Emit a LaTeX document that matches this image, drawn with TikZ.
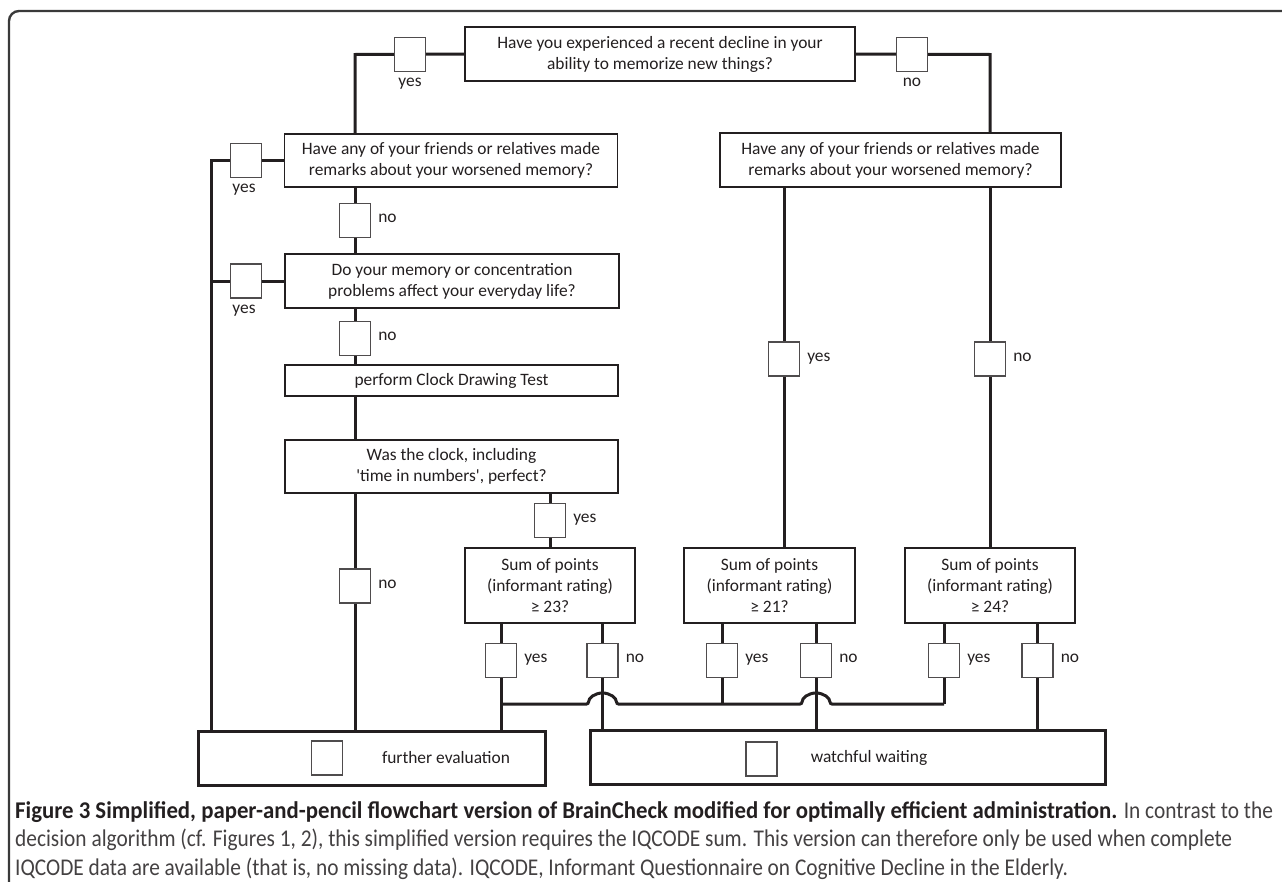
\documentclass[tikz,border=0pt]{standalone}
\usepackage{fontspec}
\usepackage{tikz}
\usetikzlibrary{positioning}
\setmainfont{Carlito}
\newfontfamily\capfont[FakeStretch=0.89]{Carlito}
\newfontfamily\capbold[FakeStretch=0.95]{Carlito}
\definecolor{ink}{HTML}{231F20}
\definecolor{rim}{HTML}{3A3A3A}

\begin{document}
\begin{tikzpicture}[x=1pt, y=-1pt,
    every node/.style={text=ink, font=\fontsize{17.4}{21}\selectfont},
    qbox/.style n args={2}{draw=ink, line width=1.2pt, fill=white, align=center,
        inner sep=0pt, minimum width=#1pt, minimum height=#2pt},
    abox/.style={draw=ink!80, line width=1.1pt, fill=white, inner sep=0pt,
        minimum width=31pt, minimum height=34pt},
    endbox/.style n args={2}{draw=ink, line width=3pt, fill=white, inner sep=0pt,
        minimum width=#1pt, minimum height=#2pt},
    link/.style={draw=ink, line width=3pt},
    lbl/.style={inner sep=0pt}]
    \useasboundingbox (0,0) rectangle (1282,881);
    \draw[draw=rim, line width=2.4pt, rounded corners=10pt] (9,900) -- (9,11) -- (1300,11);

    \node[qbox={390}{54}] (q1) at (660,54) {Have you experienced a recent decline in your\\ability to memorize new things?};
    \node[qbox={333}{53}] (q2) at (451,160.5) {Have any of your friends or relatives made\\remarks about your worsened memory?};
    \node[qbox={341}{54}] (q2b) at (890.5,160) {Have any of your friends or relatives made\\remarks about your worsened memory?};
    \node[qbox={334}{54}] (q3) at (452,281) {Do your memory or concentration\\problems affect your everyday life?};
    \node[qbox={333}{31}] (clk) at (451.5,380.5) {perform Clock Drawing Test};
    \node[qbox={333}{53}] (q4) at (451.5,466.5) {Was the clock, including\\\textquotesingle time in numbers\textquotesingle, perfect?};
    \node[qbox={170}{75}] (s1) at (550,585.5) {Sum of points\\(informant rating)\\≥ 23?};
    \node[qbox={171}{75}] (s2) at (769.5,585.5) {Sum of points\\(informant rating)\\≥ 21?};
    \node[qbox={170}{75}] (s3) at (990,585.5) {Sum of points\\(informant rating)\\≥ 24?};
    \node[endbox={347}{54}] (fe) at (371.5,758) {};
    \node[endbox={515}{54}] (ww) at (847.5,757.5) {};
    \node[lbl] (tfe) at (446,758) {further evaluation};
    \node[lbl] (tww) at (869,758) {watchful waiting};
    \node[abox] (mfe) at (327,758) {};
    \node[abox] (mww) at (761.5,759) {};

    \coordinate (k1) at (355,54.5);
    \coordinate (k2) at (990,54.5);
    \coordinate (k3) at (211,160.5);
    \coordinate (m1) at (501,704);

    \draw[link] (q1.west) -- (k1) -- (k1 |- q2.north);
    \draw[link] (q1.east) -- (k2) -- (k2 |- q2b.north);
    \draw[link] (q2.west) -- (k3) -- (k3 |- fe.north);
    \draw[link] (q3.west) -- (q3.west -| k3);
    \draw[link] (k1 |- q2.south) -- (k1 |- q3.north);
    \draw[link] (k1 |- q3.south) -- (k1 |- clk.north);
    \draw[link] (k1 |- clk.south) -- (k1 |- q4.north);
    \draw[link] (k1 |- q4.south) -- (k1 |- fe.north);
    \draw[link] (s1.north) -- (s1.north |- q4.south);
    \draw[link] (s2.north -| 784,0) -- (784,0 |- q2b.south);
    \draw[link] (s3.north) -- (s3.north |- q2b.south);
    \draw[link] (501,0 |- s1.south) -- (501,0 |- fe.north);
    \draw[link] (602.5,0 |- s1.south) -- (602.5,0 |- ww.north);
    \draw[link] (722,0 |- s2.south) -- (722,0 |- m1);
    \draw[link] (816,0 |- s2.south) -- (816,0 |- ww.north);
    \draw[link] (944,0 |- s3.south) -- (944,0 |- m1);
    \draw[link] (1037.5,0 |- s3.south) -- (1037.5,0 |- ww.north);
    \draw[link, rounded corners=2pt] (m1) -- (588.5,0 |- m1)
        arc[start angle=180, end angle=0, x radius=14pt, y radius=11pt]
        -- (802,0 |- m1)
        arc[start angle=180, end angle=0, x radius=14pt, y radius=11pt]
        -- (944,0 |- m1);

    \foreach \n/\x/\y in {y1/410/54.5, n1/912/54.5, y2/246/160.5, n2/355/220.5,
        y3/246/281, n3/355/338.5, y4/550/520.5, n4/355/586, y5/784/359, n5/990/359,
        y6/501/660.5, n6/602.5/660.5, y7/722/660.5, n7/816/660.5,
        y8/944/660.5, n8/1037.5/660.5}
        \node[abox] (\n) at (\x,\y) {};

    \node[lbl, below=6pt of y1] (ly1) {yes};
    \node[lbl, below=6pt of n1] (ln1) {no};
    \node[lbl, below=6pt of y2, xshift=-2pt] (ly2) {yes};
    \node[lbl, below=6pt of y3, xshift=-2pt] (ly3) {yes};
    \foreach \n/\t in {n2/no, n3/no, y4/yes, n4/no, y5/yes, n5/no,
        y6/yes, n6/no, y7/yes, n7/no, y8/yes, n8/no}
        \node[lbl, right=7pt of \n.east, anchor=mid west] (l\n) {\t};

    \node[anchor=north west, align=left, inner sep=0pt, text=ink!85,
        font=\capfont\fontsize{24}{28.5}\selectfont] (cap) at (15,801)
        {{\capbold\bfseries\color{ink}Figure 3 Simplified, paper-and-pencil flowchart version of BrainCheck modified for optimally efficient administration.} In contrast to the\\
        decision algorithm (cf. Figures 1, 2), this simplified version requires the IQCODE sum. This version can therefore only be used when complete\\
        IQCODE data are available (that is, no missing data). IQCODE, Informant Questionnaire on Cognitive Decline in the Elderly.};
\end{tikzpicture}
\end{document}
